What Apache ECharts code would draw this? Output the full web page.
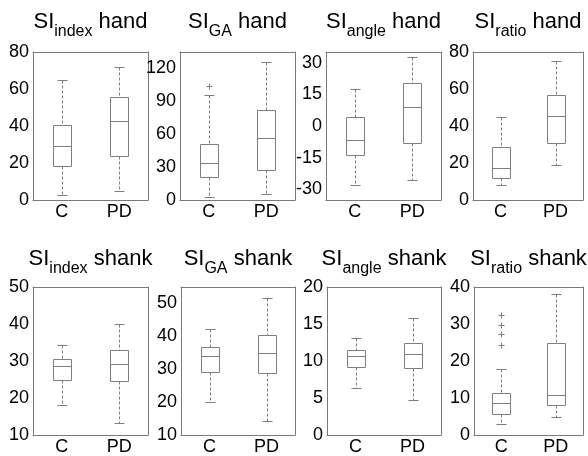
<!DOCTYPE html>
<html>
<head>
<meta charset="utf-8">
<script src="https://cdn.jsdelivr.net/npm/echarts@6/dist/echarts.min.js"></script>
<style>
  html, body { margin: 0; padding: 0; background: #ffffff; }
  #chart { width: 588px; height: 456px; }
</style>
</head>
<body>
<div id="chart"></div>
<script>
// Groups on every panel
const categories = ['C', 'PD'];

// Box summaries per group: [lower whisker, Q1, median, Q3, upper whisker]
const indexHand  = [[2.7, 18.5, 29.2, 40.5, 65.0], [5.0, 24.0, 42.9, 55.9, 71.7]];
const gaHand     = [[3.0, 20.6, 34.0, 51.5, 95.7], [5.5, 27.3, 56.7, 81.8, 125.7]];
const angleHand  = [[-28.1, -13.8, -6.7, 4.1, 17.5], [-25.7, -8.2, 8.9, 20.3, 32.7]];
const ratioHand  = [[8.1, 11.7, 17.1, 28.8, 45.0], [18.9, 30.6, 45.2, 56.8, 75.1]];
const indexShank = [[18.1, 25.0, 28.6, 30.5, 34.3], [13.3, 24.7, 29.1, 32.9, 40.0]];
const gaShank    = [[20.1, 29.2, 34.0, 36.8, 42.1], [14.4, 28.7, 34.8, 40.3, 51.7]];
const angleShank = [[6.4, 9.2, 10.7, 11.45, 13.1], [4.7, 9.0, 10.9, 12.5, 15.8]];
const ratioShank = [[2.9, 5.6, 8.6, 11.35, 17.8], [4.8, 8.1, 10.7, 24.95, 38.0]];

// Outliers: [group index, value]
const gaHandOutliers     = [[0, 103.6]];
const ratioShankOutliers = [[0, 24.2], [0, 27.3], [0, 29.7], [0, 32.3]];

// Y tick labels per panel
const ticksIndexHand  = [0, 20, 40, 60, 80];
const ticksGaHand     = [0, 30, 60, 90, 120];
const ticksAngleHand  = [-30, -15, 0, 15, 30];
const ticksRatioHand  = [0, 20, 40, 60, 80];
const ticksIndexShank = [10, 20, 30, 40, 50];
const ticksGaShank    = [10, 20, 30, 40, 50];
const ticksAngleShank = [0, 5, 10, 15, 20];
const ticksRatioShank = [0, 10, 20, 30, 40];

// Y axis ranges per panel
const rangeIndexHand  = [0, 80];
const rangeGaHand     = [0, 135];
const rangeAngleHand  = [-35, 35];
const rangeRatioHand  = [0, 80];
const rangeIndexShank = [10, 50];
const rangeGaShank    = [10, 55];
const rangeAngleShank = [0, 20];
const rangeRatioShank = [0, 40];

// Title parts: subscript and body segment
const titleSubs  = ['index', 'GA', 'angle', 'ratio', 'index', 'GA', 'angle', 'ratio'];
const titleParts = ['hand', 'hand', 'hand', 'hand', 'shank', 'shank', 'shank', 'shank'];

const panelStats    = [indexHand, gaHand, angleHand, ratioHand, indexShank, gaShank, angleShank, ratioShank];
const panelOutliers = [[], gaHandOutliers, [], [], [], [], [], ratioShankOutliers];
const panelTicks    = [ticksIndexHand, ticksGaHand, ticksAngleHand, ticksRatioHand,
                       ticksIndexShank, ticksGaShank, ticksAngleShank, ticksRatioShank];
const panelRanges   = [rangeIndexHand, rangeGaHand, rangeAngleHand, rangeRatioHand,
                       rangeIndexShank, rangeGaShank, rangeAngleShank, rangeRatioShank];

// Layout of the 2 x 4 subplot grid (pixels)
const gridBoxes = [
  { left: 33,  top: 52,  width: 115, height: 148 },
  { left: 180, top: 52,  width: 115, height: 148 },
  { left: 326, top: 52,  width: 115, height: 148 },
  { left: 473, top: 52,  width: 110, height: 148 },
  { left: 33,  top: 287, width: 115, height: 148 },
  { left: 181, top: 287, width: 114, height: 148 },
  { left: 327, top: 287, width: 114, height: 148 },
  { left: 474, top: 287, width: 109, height: 148 }
];

const FONT = "'Liberation Sans', Arial, Helvetica, sans-serif";
const FRAME = '#7a7a7a';
const BOX = '#7f7f7f';
const BOX_HALF = 9;
const CAP_HALF = 5;
const PLUS_HALF = 3;

const snap = v => Math.round(v) + 0.5;

function renderBox(params, api) {
  const xi = api.value(0);
  const cx = snap(api.coord([xi, api.value(3)])[0]);
  const y = k => snap(api.coord([xi, api.value(k)])[1]);
  const lo = y(1), q1 = y(2), md = y(3), q3 = y(4), hi = y(5);
  const solid = { stroke: BOX, lineWidth: 1, fill: null };
  const dashed = { stroke: BOX, lineWidth: 1, lineDash: [3, 2], fill: null };
  return {
    type: 'group',
    children: [
      { type: 'line', shape: { x1: cx, y1: hi, x2: cx, y2: q3 }, style: dashed },
      { type: 'line', shape: { x1: cx, y1: q1, x2: cx, y2: lo }, style: dashed },
      { type: 'line', shape: { x1: cx - CAP_HALF, y1: hi, x2: cx + CAP_HALF, y2: hi }, style: solid },
      { type: 'line', shape: { x1: cx - CAP_HALF, y1: lo, x2: cx + CAP_HALF, y2: lo }, style: solid },
      { type: 'rect', shape: { x: cx - BOX_HALF, y: q3, width: 2 * BOX_HALF, height: q1 - q3 },
        style: { stroke: BOX, lineWidth: 1, fill: 'none' } },
      { type: 'line', shape: { x1: cx - BOX_HALF, y1: md, x2: cx + BOX_HALF, y2: md }, style: solid }
    ]
  };
}

function renderPlus(params, api) {
  const p = api.coord([api.value(0), api.value(1)]);
  const cx = snap(p[0]), cy = snap(p[1]);
  const st = { stroke: BOX, lineWidth: 1, fill: null };
  return {
    type: 'group',
    children: [
      { type: 'line', shape: { x1: cx - PLUS_HALF, y1: cy, x2: cx + PLUS_HALF, y2: cy }, style: st },
      { type: 'line', shape: { x1: cx, y1: cy - PLUS_HALF, x2: cx, y2: cy + PLUS_HALF }, style: st }
    ]
  };
}

const grid = [], xAxis = [], yAxis = [], series = [], title = [];

gridBoxes.forEach((g, i) => {
  grid.push({ left: g.left, top: g.top, width: g.width, height: g.height, containLabel: false });

  const tickStyle = { inside: true, length: 3, lineStyle: { color: FRAME, width: 1 } };
  const lineStyle = { show: true, onZero: false, lineStyle: { color: FRAME, width: 1 } };

  ['bottom', 'top'].forEach(pos => {
    xAxis.push({
      gridIndex: i, type: 'category', data: categories, position: pos, boundaryGap: true,
      axisLine: lineStyle,
      axisTick: Object.assign({ alignWithLabel: true }, tickStyle),
      axisLabel: { show: pos === 'bottom', color: '#000', fontSize: 18, fontFamily: FONT, margin: 3 },
      splitLine: { show: false }
    });
  });

  ['left', 'right'].forEach(pos => {
    yAxis.push({
      gridIndex: i, type: 'value', position: pos,
      min: panelRanges[i][0], max: panelRanges[i][1],
      axisLine: lineStyle,
      axisTick: Object.assign({ customValues: panelTicks[i] }, tickStyle),
      axisLabel: { show: pos === 'left', customValues: panelTicks[i], color: '#000',
                   fontSize: 18, fontFamily: FONT, margin: 4 },
      splitLine: { show: false }
    });
  });

  series.push({
    type: 'custom', xAxisIndex: 2 * i, yAxisIndex: 2 * i,
    renderItem: renderBox, silent: true,
    encode: { x: 0, y: [1, 2, 3, 4, 5] },
    data: panelStats[i].map((s, k) => [k].concat(s))
  });

  if (panelOutliers[i].length) {
    series.push({
      type: 'custom', xAxisIndex: 2 * i, yAxisIndex: 2 * i,
      renderItem: renderPlus, silent: true,
      encode: { x: 0, y: 1 },
      data: panelOutliers[i]
    });
  }

  title.push({
    left: g.left + g.width / 2,
    top: i < 4 ? 11 : 248,
    textAlign: 'center',
    padding: 0,
    text: '{m|SI}{s|' + titleSubs[i] + '}{m| ' + titleParts[i] + '}',
    textStyle: {
      fontWeight: 'normal',
      rich: {
        m: { fontSize: 22, lineHeight: 22, verticalAlign: 'top', color: '#000',
             fontFamily: FONT, fontWeight: 'normal' },
        s: { fontSize: 16, lineHeight: 16, padding: [13, 0, 0, 0], verticalAlign: 'top', color: '#000',
             fontFamily: FONT, fontWeight: 'normal' }
      }
    }
  });
});

const chart = echarts.init(document.getElementById('chart'), null, { renderer: 'canvas' });
chart.setOption({
  animation: false,
  backgroundColor: '#ffffff',
  title, grid, xAxis, yAxis, series
});
</script>
</body>
</html>
